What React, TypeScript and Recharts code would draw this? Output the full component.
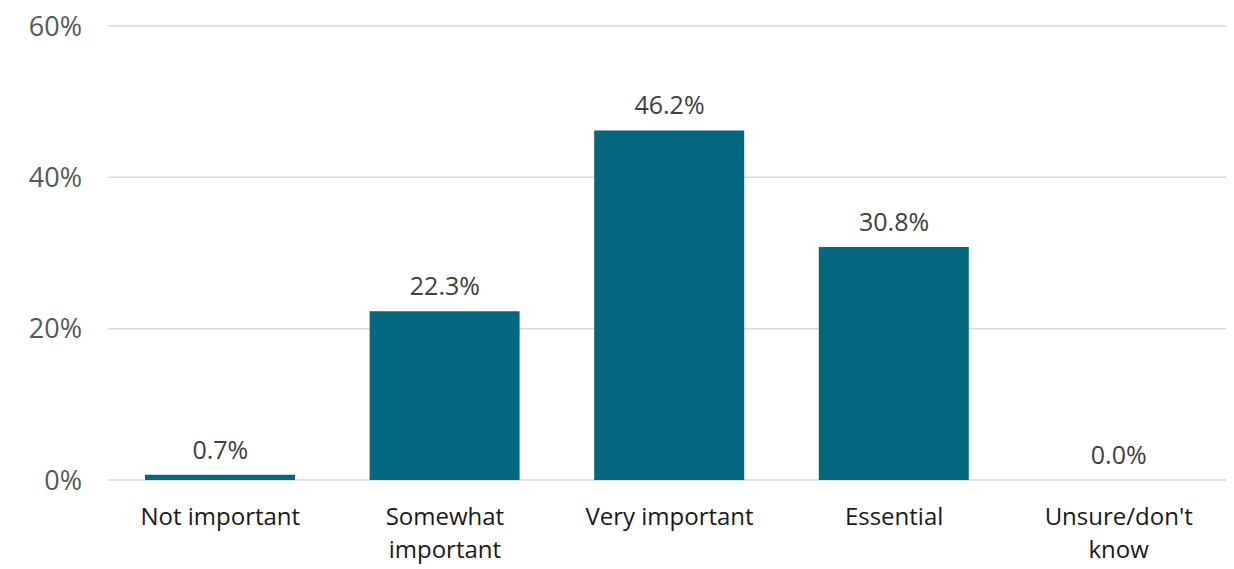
import { ComposedChart, Bar, Line, XAxis, YAxis, CartesianGrid, LabelList } from 'recharts'

const categories = ['Not important', 'Somewhat\nimportant', 'Very important', 'Essential', "Unsure/don't\nknow"]
const shares = [0.7, 22.3, 46.2, 30.8, 0.0]
const yTicks = [0, 20, 40, 60]

const data = categories.map((c, i) => ({ name: c, value: shares[i] }))

const FONT = '"Open Sans", "Noto Sans", sans-serif'

function CategoryTick({ x, y, payload }: any) {
  const lines = String(payload.value).split('\n')
  return (
    <text x={x} y={y} textAnchor="middle" fill="#1a1a1a" fontSize={24} fontFamily={FONT}>
      {lines.map((l, i) => (
        <tspan key={i} x={x} dy={i === 0 ? 37 : 33}>{l}</tspan>
      ))}
    </text>
  )
}

export default function App() {
  return (
    <div style={{ width: 1234, height: 569, margin: '-8px 0 0 -8px' }}>
      <ComposedChart width={1234} height={569} data={data} margin={{ top: 26, right: 3, left: 0, bottom: 0 }}>
        <CartesianGrid vertical={false} stroke="#d9d9d9" strokeWidth={1.5} />
        <XAxis dataKey="name" height={89} axisLine={false} tickLine={false} tick={<CategoryTick />} interval={0} />
        <YAxis
          width={108}
          domain={[0, 60]}
          ticks={yTicks}
          tickFormatter={v => `${v}%`}
          axisLine={false}
          tickLine={false}
          tickSize={0}
          tickMargin={26}
          tick={{ fill: '#595959', fontSize: 27, fontFamily: FONT }}
        />
        <Bar dataKey="value" fill="#02677f" barSize={150} isAnimationActive={false} />
        <Line dataKey="value" stroke="none" dot={false} activeDot={false} isAnimationActive={false}>
          <LabelList
            dataKey="value"
            position="top"
            offset={16}
            formatter={(v: any) => `${Number(v).toFixed(1)}%`}
            style={{ fill: '#404040', fontSize: 25, fontFamily: FONT }}
          />
        </Line>
      </ComposedChart>
    </div>
  )
}
